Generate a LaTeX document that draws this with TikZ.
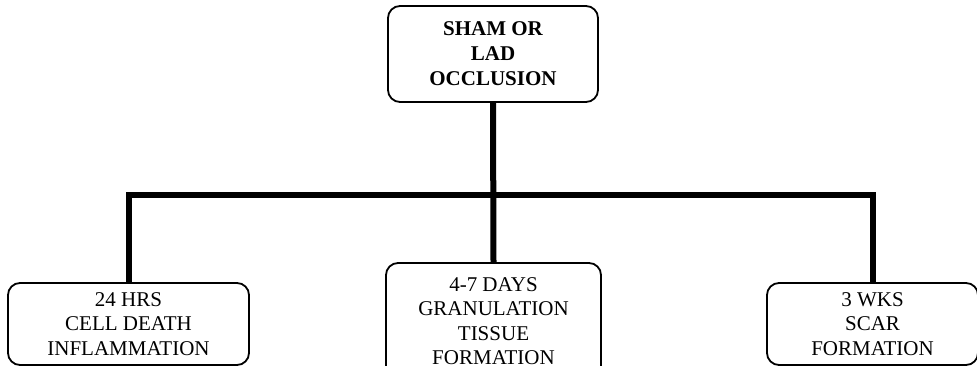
\documentclass[tikz,border=0pt]{standalone}
\usepackage{fontspec}
\setmainfont{Liberation Serif}
\begin{document}
\begin{tikzpicture}[x=1pt,y=-1pt,line join=miter,
	stage node/.style={draw,rectangle,rounded corners=12pt,line width=1.8pt,align=center,font=\fontsize{21}{24.5}\selectfont,inner sep=0pt},
	link/.style={line width=6pt}]
		
		\useasboundingbox (0,0) rectangle (977,366);
		\clip (0,0) rectangle (977,366);
		
		\node[stage node, minimum width=210pt, minimum height=96pt, font=\fontsize{21}{25}\selectfont\bfseries] (top) at (493,54) {SHAM OR\\LAD\\OCCLUSION};
		\node[stage node, minimum width=241pt, minimum height=82pt] (hrs) at (128.5,324) {24 HRS\\CELL DEATH\\INFLAMMATION};
		\node[stage node, minimum width=215pt, minimum height=116pt] (days) at (493.5,321) {4-7 DAYS\\GRANULATION\\TISSUE\\FORMATION};
		\node[stage node, minimum width=211pt, minimum height=82pt] (wks) at (872.5,324) {3 WKS\\SCAR\\FORMATION};
		
		\coordinate (hub) at (top.south |- 0,195);
		
		\draw[link] (top.south) -- (days.north);
		\draw[link] (hub) -| (hrs.north);
		\draw[link] (hub) -| (wks.north);
		
\end{tikzpicture}
\end{document}
